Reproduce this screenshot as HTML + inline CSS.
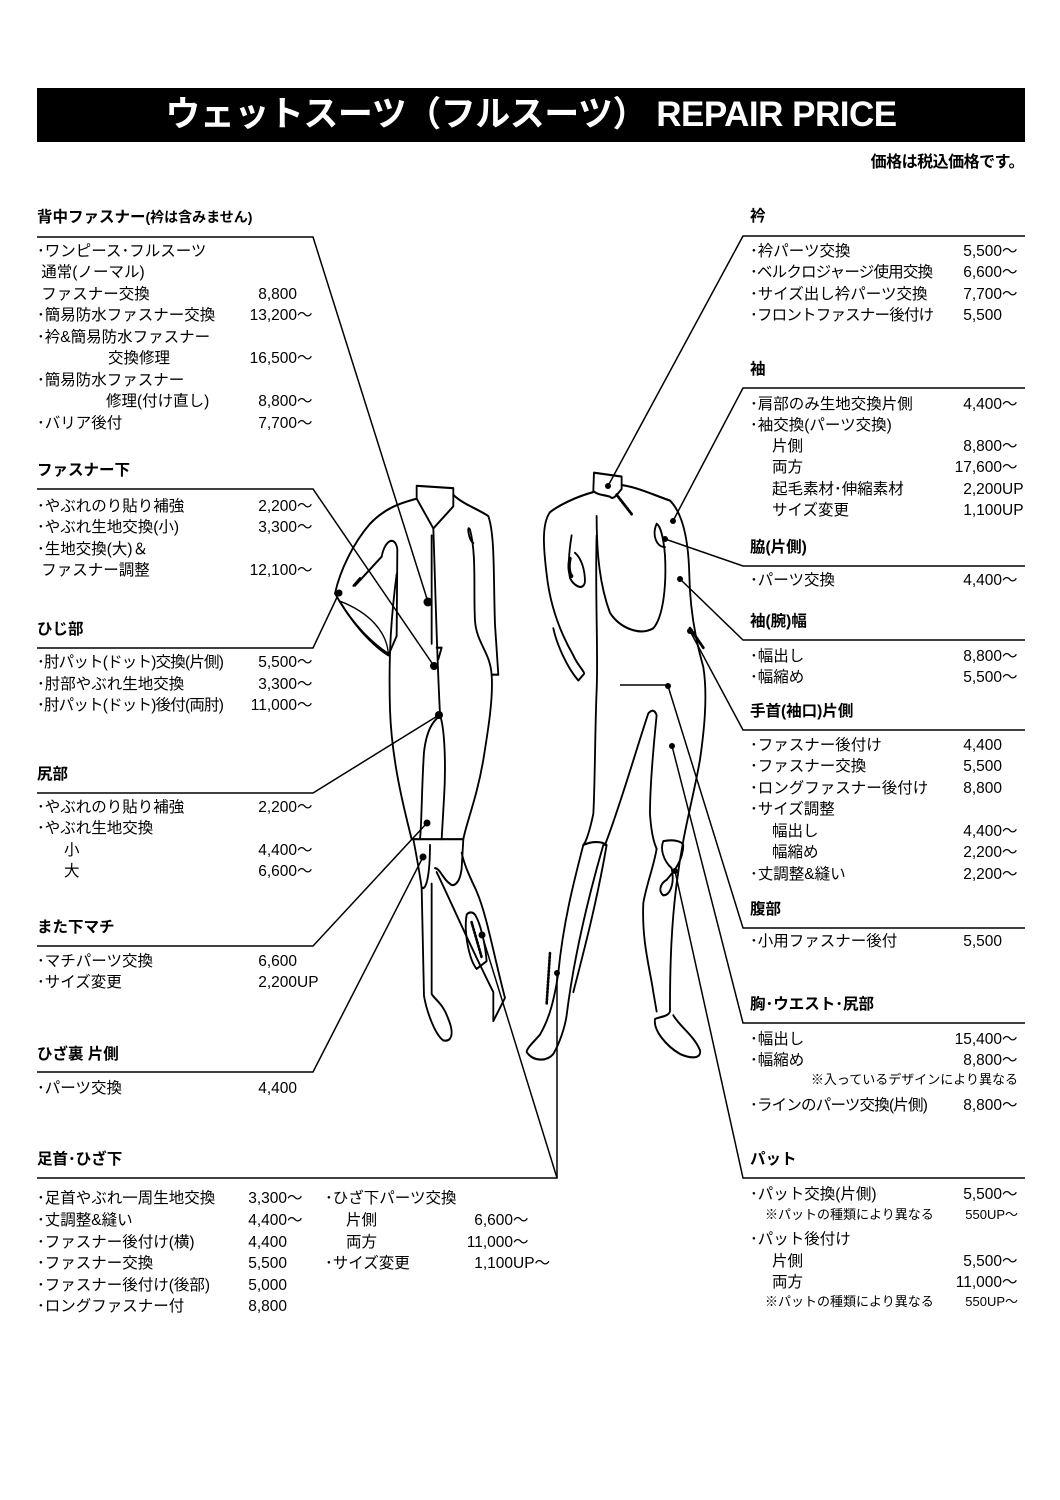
<!DOCTYPE html>
<html><head><meta charset="utf-8"><style>
body{margin:0;width:1060px;height:1500px;background:#fff;position:relative;overflow:hidden;font-family:"Liberation Sans","Noto Sans CJK JP",sans-serif;color:#000}
.title{position:absolute;left:37px;top:88px;width:988px;height:54px;background:#000;color:#fff;font-weight:bold;font-size:35px;line-height:54px;text-align:center;letter-spacing:-0.5px}
.note0{position:absolute;right:36px;top:148px;font-size:16px;font-weight:bold;letter-spacing:-0.5px}
.h{position:absolute;font-weight:bold;font-size:15.5px;line-height:20px;white-space:nowrap}
.h small{font-size:14px}
.r{position:absolute;font-size:15.5px;line-height:20px;white-space:nowrap}
.c{letter-spacing:-0.8px}
.p{position:absolute;right:0;top:0;letter-spacing:0}
.t::after{content:"～";position:absolute;left:100%;top:0}
.u::after{content:"UP";position:absolute;left:100%;top:0}
.ut::after{content:"UP～";position:absolute;left:100%;top:0}
.n{position:absolute;font-size:13px;line-height:16px;white-space:nowrap}
svg{position:absolute;left:0;top:0}
</style></head><body>
<div class="title">ウェットスーツ（フルスーツ） REPAIR PRICE</div>
<div class="note0">価格は税込価格です。</div>

<svg width="1060" height="1500" viewBox="0 0 1060 1500">
<g stroke="#000" stroke-width="1.5" fill="none">
<polyline points="37,237 313,237 428,602"/>
<polyline points="37,489 313,489 434,666"/>
<polyline points="37,648 313,648 339,593"/>
<polyline points="37,793 313,793 439,715"/>
<polyline points="37,946 313,946 427,823"/>
<polyline points="37,1072 313,1072 423,857"/>
<polyline points="37,1178 557,1178 557,973"/>
<polyline points="557,1178 482,935"/>
<polyline points="1025,236 743,236 608,486"/>
<polyline points="1025,388 743,388 673,521"/>
<polyline points="1025,566 743,566 665,539"/>
<polyline points="1025,640 743,640 680,579"/>
<polyline points="1025,730 743,730 690,631"/>
<polyline points="1025,928 743,928 668,686"/>
<polyline points="1025,1023 743,1023 672,746"/>
<polyline points="1025,1178 743,1178 675,871"/>
<line x1="620" y1="685" x2="668" y2="685"/>
</g>
<g fill="#000">
<circle cx="428" cy="602" r="4.5"/><circle cx="434" cy="666" r="4"/><circle cx="339" cy="593" r="3.5"/>
<circle cx="439" cy="715" r="4"/><circle cx="427" cy="823" r="3.5"/><circle cx="423" cy="857" r="3.5"/>
<circle cx="482" cy="935" r="3.5"/><circle cx="557" cy="973" r="3"/>
<circle cx="608" cy="486" r="3"/><circle cx="673" cy="521" r="3"/><circle cx="665" cy="539" r="3"/>
<circle cx="680" cy="579" r="3"/><circle cx="690" cy="631" r="3"/><circle cx="668" cy="686" r="3"/>
<circle cx="672" cy="746" r="3"/><circle cx="675" cy="871" r="3"/>
</g>
<g transform="translate(320,458) scale(0.3333,0.387)" stroke="#000" stroke-width="5.5" fill="none" stroke-linecap="round" stroke-linejoin="round">
<path d="M290,72 L400,78 L400,125 L340,182 L290,105 Z"/>
<path d="M290,105 C250,115 200,125 150,170 C100,220 60,290 45,350"/>
<path d="M45,350 C90,420 150,480 205,510 L230,460"/>
<path d="M105,330 L185,255 C195,210 225,200 232,235 L230,460"/>
<path d="M100,330 L120,310"/>
<path d="M60,370 C100,430 160,480 205,505 C200,450 150,400 60,370 Z" stroke-width="4"/>
<path d="M400,95 C430,120 470,130 505,150 C525,200 520,300 525,430 L535,560 L515,560 C510,500 470,480 465,420 C460,340 470,250 450,185 C440,170 445,210 460,220"/>
<path d="M230,300 C215,400 205,500 210,650 C215,780 250,900 275,985"/>
<path d="M515,560 C520,620 505,700 490,780 C470,880 440,940 430,985"/>
<path d="M340,182 C345,300 350,500 360,660"/>
<path d="M335,200 L335,480 M350,490 L365,490 L355,520"/>
<path d="M360,665 C340,680 320,700 312,760 C305,850 305,950 300,985"/>
<path d="M360,665 C375,700 378,800 372,880 L365,985"/>
<path d="M278,985 L430,985 L425,1060 C420,1100 400,1110 390,1100 C370,1090 360,1060 345,1060"/>
<path d="M280,985 C290,1030 300,1080 305,1110 C320,1120 330,1070 330,1000"/>
<path d="M305,1110 L312,1390 C320,1430 345,1490 370,1505 C400,1510 400,1480 385,1450 C370,1410 345,1400 335,1385 L335,1100"/>
<path d="M350,1070 C400,1160 450,1260 520,1380 L520,1455 L555,1395 C520,1280 500,1180 470,1120 C460,1100 435,1060 425,1020"/>
<path d="M440,1180 C430,1230 450,1300 470,1320 L500,1300 C495,1250 480,1200 465,1180 C455,1170 445,1175 440,1180 Z"/>
<path d="M455,1200 L485,1290" stroke-width="8" stroke-dasharray="3,6"/>
<path d="M822,38 L905,48 L905,80 C890,95 880,110 870,100 C850,95 830,95 820,85 Z"/>
<path d="M820,88 C770,100 720,120 690,140 C665,170 670,230 680,300 C690,380 720,450 760,510 C775,540 800,555 790,560 L775,575 C740,540 710,480 700,440"/>
<path d="M755,200 C745,250 745,290 750,310 C760,330 790,345 795,320 C795,290 785,260 765,245"/>
<path d="M750,260 C745,280 748,300 755,305" stroke-width="10"/>
<path d="M905,70 C950,75 1000,95 1050,110 C1085,140 1105,200 1108,300 C1110,400 1130,480 1150,540 C1165,620 1150,720 1140,780 C1120,880 1090,960 1070,1100 C1055,1200 1050,1300 1050,1430 C1045,1445 1010,1445 1005,1450 C1000,1480 1040,1520 1080,1540 C1120,1555 1145,1550 1140,1530 C1120,1490 1080,1470 1060,1440"/>
<path d="M830,150 C830,250 840,330 870,400 C900,440 960,460 1000,440 C1030,410 1040,330 1035,250 C1030,200 1020,175 1010,170 C995,200 1010,230 1035,230"/>
<path d="M890,95 L935,145" stroke-width="8" stroke-dasharray="3,5"/>
<path d="M830,200 C825,350 835,500 830,600 C825,700 825,850 820,920 C810,960 800,990 790,1000 C760,1100 730,1200 715,1330 C700,1420 680,1460 660,1490 C640,1510 620,1525 620,1535 C640,1560 680,1560 700,1540 C720,1510 735,1470 740,1440 C760,1300 800,1150 850,1000"/>
<path d="M790,1000 C815,990 845,990 860,1000 C830,1150 790,1280 760,1380"/>
<path d="M690,1280 L680,1410" stroke-width="8" stroke-dasharray="3,6"/>
<path d="M855,1000 C900,900 950,750 985,660 C995,650 1005,650 1010,665 C1000,750 990,850 990,920 C995,980 1005,1000 1010,1010"/>
<path d="M1010,1010 C1000,1060 980,1100 970,1150 C965,1250 990,1320 1000,1380 L1010,1430"/>
<path d="M1030,990 C1060,985 1085,990 1090,1000 C1090,1040 1060,1070 1040,1090 C1020,1100 1015,1120 1030,1130 C1050,1130 1065,1100 1055,1060 C1030,1040 1020,1010 1030,990 Z"/>
<path d="M1110,440 L1150,490" stroke-width="8" stroke-dasharray="3,4"/>
</g>
</svg>

<!-- LEFT -->
<div class="h" style="left:37px;top:207px">背中ファスナー<small>(衿は含みません)</small></div>
<div class="r" style="left:37px;top:242px;width:260px">･ワンピース･フルスーツ</div>
<div class="r" style="left:37px;top:263px;width:260px">&nbsp;通常(ノーマル)</div>
<div class="r" style="left:37px;top:285px;width:260px">&nbsp;ファスナー交換<span class="p">8,800</span></div>
<div class="r" style="left:37px;top:306px;width:260px">･簡易防水ファスナー交換<span class="p t">13,200</span></div>
<div class="r" style="left:37px;top:328px;width:260px">･衿&amp;簡易防水ファスナー</div>
<div class="r" style="left:37px;top:349px;width:260px"><span style="padding-left:71px">交換修理</span><span class="p t">16,500</span></div>
<div class="r" style="left:37px;top:371px;width:260px">･簡易防水ファスナー</div>
<div class="r" style="left:37px;top:392px;width:260px"><span style="padding-left:69px">修理(付け直し)</span><span class="p t">8,800</span></div>
<div class="r" style="left:37px;top:414px;width:260px">･バリア後付<span class="p t">7,700</span></div>

<div class="h" style="left:37px;top:461px">ファスナー下</div>
<div class="r" style="left:37px;top:497px;width:260px">･やぶれのり貼り補強<span class="p t">2,200</span></div>
<div class="r" style="left:37px;top:518px;width:260px">･やぶれ生地交換(小)<span class="p t">3,300</span></div>
<div class="r" style="left:37px;top:540px;width:260px">･生地交換(大)＆</div>
<div class="r" style="left:37px;top:561px;width:260px">&nbsp;ファスナー調整<span class="p t">12,100</span></div>

<div class="h" style="left:37px;top:620px">ひじ部</div>
<div class="r c" style="left:37px;top:653px;width:260px">･肘パット(ドット)交換(片側)<span class="p t">5,500</span></div>
<div class="r" style="left:37px;top:675px;width:260px">･肘部やぶれ生地交換<span class="p t">3,300</span></div>
<div class="r c" style="left:37px;top:696px;width:260px">･肘パット(ドット)後付(両肘)<span class="p t">11,000</span></div>

<div class="h" style="left:37px;top:765px">尻部</div>
<div class="r" style="left:37px;top:798px;width:260px">･やぶれのり貼り補強<span class="p t">2,200</span></div>
<div class="r" style="left:37px;top:819px;width:260px">･やぶれ生地交換</div>
<div class="r" style="left:37px;top:841px;width:260px"><span style="padding-left:27px">小</span><span class="p t">4,400</span></div>
<div class="r" style="left:37px;top:862px;width:260px"><span style="padding-left:27px">大</span><span class="p t">6,600</span></div>

<div class="h" style="left:37px;top:918px">また下マチ</div>
<div class="r" style="left:37px;top:952px;width:260px">･マチパーツ交換<span class="p">6,600</span></div>
<div class="r" style="left:37px;top:973px;width:260px">･サイズ変更<span class="p u">2,200</span></div>

<div class="h" style="left:37px;top:1045px">ひざ裏 片側</div>
<div class="r" style="left:37px;top:1079px;width:260px">･パーツ交換<span class="p">4,400</span></div>

<div class="h" style="left:37px;top:1150px">足首･ひざ下</div>
<div class="r" style="left:37px;top:1189px;width:250px">･足首やぶれ一周生地交換<span class="p t">3,300</span></div>
<div class="r" style="left:37px;top:1211px;width:250px">･丈調整&amp;縫い<span class="p t">4,400</span></div>
<div class="r" style="left:37px;top:1233px;width:250px">･ファスナー後付け(横)<span class="p">4,400</span></div>
<div class="r" style="left:37px;top:1254px;width:250px">･ファスナー交換<span class="p">5,500</span></div>
<div class="r" style="left:37px;top:1276px;width:250px">･ファスナー後付け(後部)<span class="p">5,000</span></div>
<div class="r" style="left:37px;top:1297px;width:250px">･ロングファスナー付<span class="p">8,800</span></div>
<div class="r" style="left:325px;top:1189px;width:188px">･ひざ下パーツ交換</div>
<div class="r" style="left:325px;top:1211px;width:188px"><span style="padding-left:21px">片側</span><span class="p t">6,600</span></div>
<div class="r" style="left:325px;top:1233px;width:188px"><span style="padding-left:21px">両方</span><span class="p t">11,000</span></div>
<div class="r" style="left:325px;top:1254px;width:188px">･サイズ変更<span class="p ut">1,100</span></div>

<!-- RIGHT -->
<div class="h" style="left:750px;top:207px">衿</div>
<div class="r" style="left:750px;top:242px;width:252px">･衿パーツ交換<span class="p t">5,500</span></div>
<div class="r c" style="left:750px;top:263px;width:252px">･ベルクロジャージ使用交換<span class="p t">6,600</span></div>
<div class="r" style="left:750px;top:285px;width:252px">･サイズ出し衿パーツ交換<span class="p t">7,700</span></div>
<div class="r c" style="left:750px;top:306px;width:252px">･フロントファスナー後付け<span class="p">5,500</span></div>

<div class="h" style="left:750px;top:360px">袖</div>
<div class="r" style="left:750px;top:395px;width:252px">･肩部のみ生地交換片側<span class="p t">4,400</span></div>
<div class="r" style="left:750px;top:416px;width:252px">･袖交換(パーツ交換)</div>
<div class="r" style="left:750px;top:437px;width:252px"><span style="padding-left:22px">片側</span><span class="p t">8,800</span></div>
<div class="r" style="left:750px;top:458px;width:252px"><span style="padding-left:22px">両方</span><span class="p t">17,600</span></div>
<div class="r" style="left:750px;top:480px;width:252px"><span style="padding-left:22px">起毛素材･伸縮素材</span><span class="p u">2,200</span></div>
<div class="r" style="left:750px;top:501px;width:252px"><span style="padding-left:22px">サイズ変更</span><span class="p u">1,100</span></div>

<div class="h" style="left:750px;top:538px">脇(片側)</div>
<div class="r" style="left:750px;top:571px;width:252px">･パーツ交換<span class="p t">4,400</span></div>

<div class="h" style="left:750px;top:612px">袖(腕)幅</div>
<div class="r" style="left:750px;top:647px;width:252px">･幅出し<span class="p t">8,800</span></div>
<div class="r" style="left:750px;top:668px;width:252px">･幅縮め<span class="p t">5,500</span></div>

<div class="h" style="left:750px;top:702px">手首(袖口)片側</div>
<div class="r" style="left:750px;top:736px;width:252px">･ファスナー後付け<span class="p">4,400</span></div>
<div class="r" style="left:750px;top:757px;width:252px">･ファスナー交換<span class="p">5,500</span></div>
<div class="r" style="left:750px;top:779px;width:252px">･ロングファスナー後付け<span class="p">8,800</span></div>
<div class="r" style="left:750px;top:800px;width:252px">･サイズ調整</div>
<div class="r" style="left:750px;top:822px;width:252px"><span style="padding-left:22px">幅出し</span><span class="p t">4,400</span></div>
<div class="r" style="left:750px;top:843px;width:252px"><span style="padding-left:22px">幅縮め</span><span class="p t">2,200</span></div>
<div class="r" style="left:750px;top:865px;width:252px">･丈調整&amp;縫い<span class="p t">2,200</span></div>

<div class="h" style="left:750px;top:900px">腹部</div>
<div class="r" style="left:750px;top:932px;width:252px">･小用ファスナー後付<span class="p">5,500</span></div>

<div class="h" style="left:750px;top:995px">胸･ウエスト･尻部</div>
<div class="r" style="left:750px;top:1030px;width:252px">･幅出し<span class="p t">15,400</span></div>
<div class="r" style="left:750px;top:1051px;width:252px">･幅縮め<span class="p t">8,800</span></div>
<div class="n" style="right:42px;top:1072px">※入っているデザインにより異なる</div>
<div class="r c" style="left:750px;top:1096px;width:252px">･ラインのパーツ交換(片側)<span class="p t">8,800</span></div>

<div class="h" style="left:750px;top:1150px">パット</div>
<div class="r" style="left:750px;top:1185px;width:252px">･パット交換(片側)<span class="p t">5,500</span></div>
<div class="n" style="left:765px;top:1207px">※パットの種類により異なる</div>
<div class="n" style="right:42px;top:1207px">550UP～</div>
<div class="r" style="left:750px;top:1230px;width:252px">･パット後付け</div>
<div class="r" style="left:750px;top:1252px;width:252px"><span style="padding-left:22px">片側</span><span class="p t">5,500</span></div>
<div class="r" style="left:750px;top:1273px;width:252px"><span style="padding-left:22px">両方</span><span class="p t">11,000</span></div>
<div class="n" style="left:765px;top:1294px">※パットの種類により異なる</div>
<div class="n" style="right:42px;top:1294px">550UP～</div>
</body></html>
